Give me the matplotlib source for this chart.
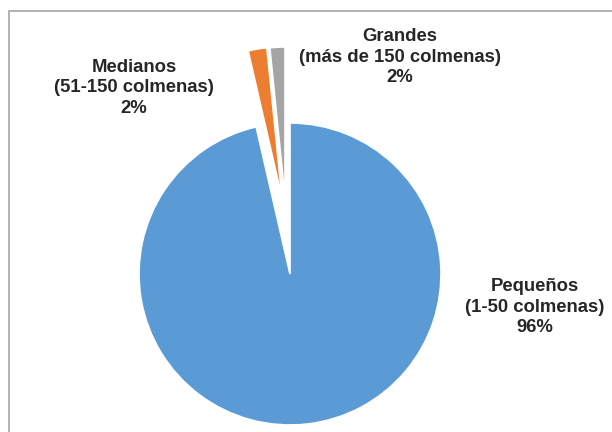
import matplotlib.pyplot as plt
from matplotlib.patches import Rectangle

# -------------------- Data --------------------
categories = ["Pequeños", "Medianos", "Grandes"]
ranges = ["(1-50 colmenas)", "(51-150 colmenas)", "(más de 150 colmenas)"]
shares = [96.4, 2.0, 1.6]          # labels are shown rounded, as in the source
colors = ["#5B9BD5", "#ED7D31", "#A5A5A5"]

# -------------------- Layout (pixel units) --------------------
W, H = 612, 432
CENTER = (290, H - 274)
RADIUS = 151
# offsets of the pulled-out slices (dx, dy in px)
OFFSETS = [(0, 0), (-8, 76), (-5, 76)]
# label block centres (x, y from top)
LABEL_POS = [(535, 307), (134, 88), (400, 57)]
TXT = "#262626"

fig = plt.figure(figsize=(W / 100, H / 100), dpi=100)
ax = fig.add_axes([0, 0, 1, 1])

wedges, _ = ax.pie(shares, colors=colors, startangle=90, counterclock=False,
                   center=CENTER, radius=RADIUS,
                   wedgeprops=dict(edgecolor="white", linewidth=1.2), frame=True)
for w, (dx, dy) in zip(wedges, OFFSETS):
    w.set_center((CENTER[0] + dx, CENTER[1] + dy))

ax.set_xlim(0, W)
ax.set_ylim(0, H)
ax.set_aspect("equal")
ax.axis("off")

for cat, rng, val, (x, y) in zip(categories, ranges, shares, LABEL_POS):
    ax.text(x, H - y, f"{cat}\n{rng}\n{val:.0f}%", ha="center", va="center",
            fontsize=13.3, fontweight="bold", family="Liberation Sans",
            color=TXT, linespacing=1.3)

# chart area border (cropped at right and bottom)
fig.patches.append(Rectangle((9 / W, -0.1), 1.2, (H - 11) / H + 0.1,
                             transform=fig.transFigure, fill=False,
                             edgecolor="#A6A6A6", linewidth=1.2))

fig.savefig("out.png", dpi=100)
